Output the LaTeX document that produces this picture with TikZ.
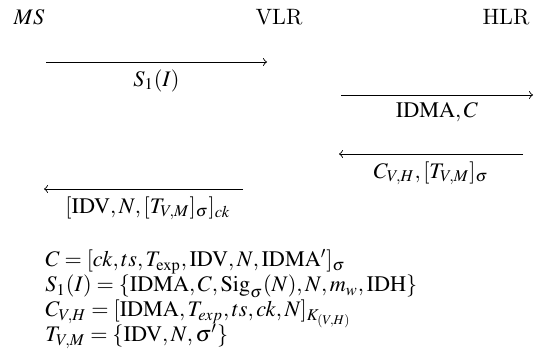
\documentclass[tikz,border=0pt]{standalone}
\usepackage{mathptmx}
\usetikzlibrary{positioning}

\begin{document}
\begin{tikzpicture}[x=0.45pt,y=-0.45pt,every node/.style={font=\fontsize{10}{11.4}\selectfont}]
        \useasboundingbox (0,0) rectangle (539,360);
        % Parties
        \node[anchor=base] (ms)  at (29,25)  {$MS$};
        \node[anchor=base] (vlr) at (279,25) {VLR};
        \node[anchor=base] (hlr) at (506,25) {HLR};
        % Message ends
        \coordinate (m1a) at (46,62);   \coordinate (m1b) at (267,62);
        \coordinate (m2a) at (341,95);  \coordinate (m2b) at (533,95);
        \coordinate (m3a) at (523,154); \coordinate (m3b) at (339,154);
        \coordinate (m4a) at (243,189); \coordinate (m4b) at (44,189);
        % Messages
        \draw[thin,-to] (m1a) -- (m1b) node[midway,below] {$S_1(I)$};
        \draw[thin,-to] (m2a) -- (m2b) node[midway,below] {$\mathrm{IDMA},C$};
        \draw[thin,-to] (m3a) -- (m3b) node[midway,below] {$C_{V,H},[T_{V,M}]_\sigma$};
        \draw[thin,-to] (m4a) -- (m4b) node[midway,below,xshift=2pt] {$[\mathrm{IDV},N,[T_{V,M}]_\sigma]_{ck}$};
        % Definitions
        \node[anchor=base west,inner sep=0pt] (defc) at (45,267) {$C=[ck,ts,T_{\mathrm{exp}},\mathrm{IDV},N,\mathrm{IDMA}']_\sigma$};
        \node[anchor=base west,inner sep=0pt] (defs) at (45,292) {$S_1(I)=\{\mathrm{IDMA},C,\mathrm{Sig}_\sigma(N),N,m_w,\mathrm{IDH}\}$};
        \node[anchor=base west,inner sep=0pt] (defk) at (45,317) {$C_{V,H}=[\mathrm{IDMA},T_{exp},ts,ck,N]_{K_{(V,H)}}$};
        \node[anchor=base west,inner sep=0pt] (deft) at (45,342) {$T_{V,M}=\{\mathrm{IDV},N,\sigma'\}$};
\end{tikzpicture}
\end{document}
